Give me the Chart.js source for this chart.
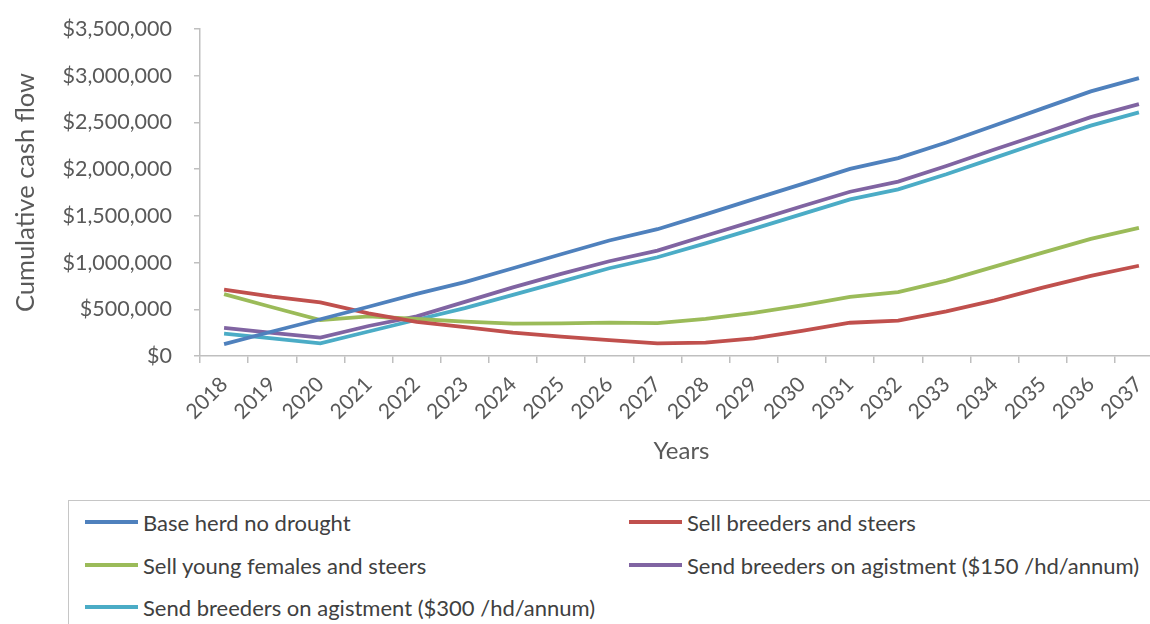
<!DOCTYPE html>
<html>
<head>
<meta charset="utf-8">
<script src="https://cdn.jsdelivr.net/npm/chart.js@4.4.1/dist/chart.umd.min.js"></script>
<style>
    html, body { margin:0; padding:0; background:#fff; overflow:hidden; width:1150px; height:624px; }
    #wrap { position:relative; width:1170px; height:480px; }
    #legend { position:absolute; left:68px; top:500px; width:1120px; height:160px;
              border:1px solid #c6c6c6; font-family:Lato, sans-serif; font-size:22px; color:#404040; }
    .item { position:absolute; display:flex; align-items:center; height:26px; white-space:nowrap; }
    .item .line { width:53px; height:4px; margin-right:5px; }
</style>
</head>
<body>
<div id="wrap"><canvas id="chart" width="1170" height="480"></canvas></div>
<div id="legend"></div>
<script>
const years = ["2018","2019","2020","2021","2022","2023","2024","2025","2026","2027",
               "2028","2029","2030","2031","2032","2033","2034","2035","2036","2037"];

const baseHerd     = [128000, 262000, 393000, 527000, 665000, 790000, 939000, 1089000, 1236000, 1357000,
                      1516000, 1679000, 1839000, 2002000, 2118000, 2285000, 2468000, 2650000, 2832000, 2975000];
const sellBreeders = [710000, 635000, 575000, 457000, 365000, 310000, 250000, 207000, 171000, 136000,
                      143000, 189000, 268000, 356000, 378000, 478000, 595000, 732000, 857000, 966000];
const sellYoung    = [662000, 522000, 384000, 424000, 396000, 368000, 346000, 350000, 357000, 352000,
                      398000, 462000, 542000, 632000, 684000, 806000, 957000, 1107000, 1254000, 1372000];
const agist150     = [300000, 248000, 196000, 321000, 424000, 580000, 735000, 879000, 1014000, 1128000,
                      1287000, 1443000, 1603000, 1758000, 1866000, 2034000, 2211000, 2382000, 2557000, 2696000];
const agist300     = [239000, 188000, 136000, 262000, 388000, 512000, 654000, 796000, 939000, 1057000,
                      1206000, 1361000, 1518000, 1676000, 1783000, 1945000, 2121000, 2296000, 2466000, 2607000];

const seriesNames = ["Base herd no drought", "Sell breeders and steers", "Sell young females and steers",
                     "Send breeders on agistment ($150 /hd/annum)", "Send breeders on agistment ($300 /hd/annum)"];
const seriesData = [baseHerd, sellBreeders, sellYoung, agist150, agist300];
const colors = ["#4f81bd", "#c0504d", "#9bbb59", "#8064a2", "#4bacc6"];

const axisGray = "#bfbfbf";
const textGray = "#595959";

const chart = new Chart(document.getElementById("chart"), {
    type: "line",
    data: {
        labels: years,
        datasets: seriesNames.map((name, i) => ({
            label: name,
            data: seriesData[i],
            borderColor: colors[i],
            backgroundColor: colors[i],
            borderWidth: 3.8,
            pointRadius: 0,
            tension: 0,
            fill: false
        }))
    },
    options: {
        responsive: false,
        animation: false,
        events: [],
        layout: { autoPadding: false, padding: { top: 29, right: 7, left: 0, bottom: 0 } },
        plugins: { legend: { display: false }, tooltip: { enabled: false } },
        scales: {
            x: {
                offset: true,
                grid: { offset: true, drawOnChartArea: false, color: axisGray, tickLength: 7, lineWidth: 1.5 },
                border: { color: axisGray, width: 1.5 },
                ticks: { color: textGray, font: { family: "Lato", size: 21 }, minRotation: 45, maxRotation: 45, padding: 9, autoSkip: false },
                title: { display: true, text: "Years", color: textGray, font: { family: "Lato", size: 24 }, padding: { top: 0, bottom: 14 } },
                afterFit: s => { s.height = 124; s.paddingLeft = 0; s.paddingRight = 0; }
            },
            y: {
                min: 0, max: 3500000,
                grid: { drawOnChartArea: false, color: axisGray, tickLength: 6, lineWidth: 1.5 },
                border: { color: axisGray, width: 1.5 },
                ticks: {
                    stepSize: 500000, color: textGray, padding: 22,
                    font: { family: "Lato", size: 21.5 },
                    callback: v => "$" + v.toLocaleString("en-US")
                },
                title: { display: true, text: "Cumulative cash flow", color: textGray, font: { family: "Lato", size: 25.5 }, padding: { top: 10, bottom: 0 } },
                afterFit: s => { s.width = 200; s.paddingTop = 0; s.paddingBottom = 0; }
            }
        }
    }
});

// legend built from the chart datasets, two columns like the original
const legendPos = [[16, 8], [560, 8], [16, 51], [560, 51], [16, 93]];
document.getElementById("legend").innerHTML = chart.data.datasets
    .map((d, i) => `<div class="item" style="left:${legendPos[i][0]}px;top:${legendPos[i][1]}px">` +
                   `<span class="line" style="background:${d.borderColor}"></span>${d.label}</div>`)
    .join("");
</script>
</body>
</html>
